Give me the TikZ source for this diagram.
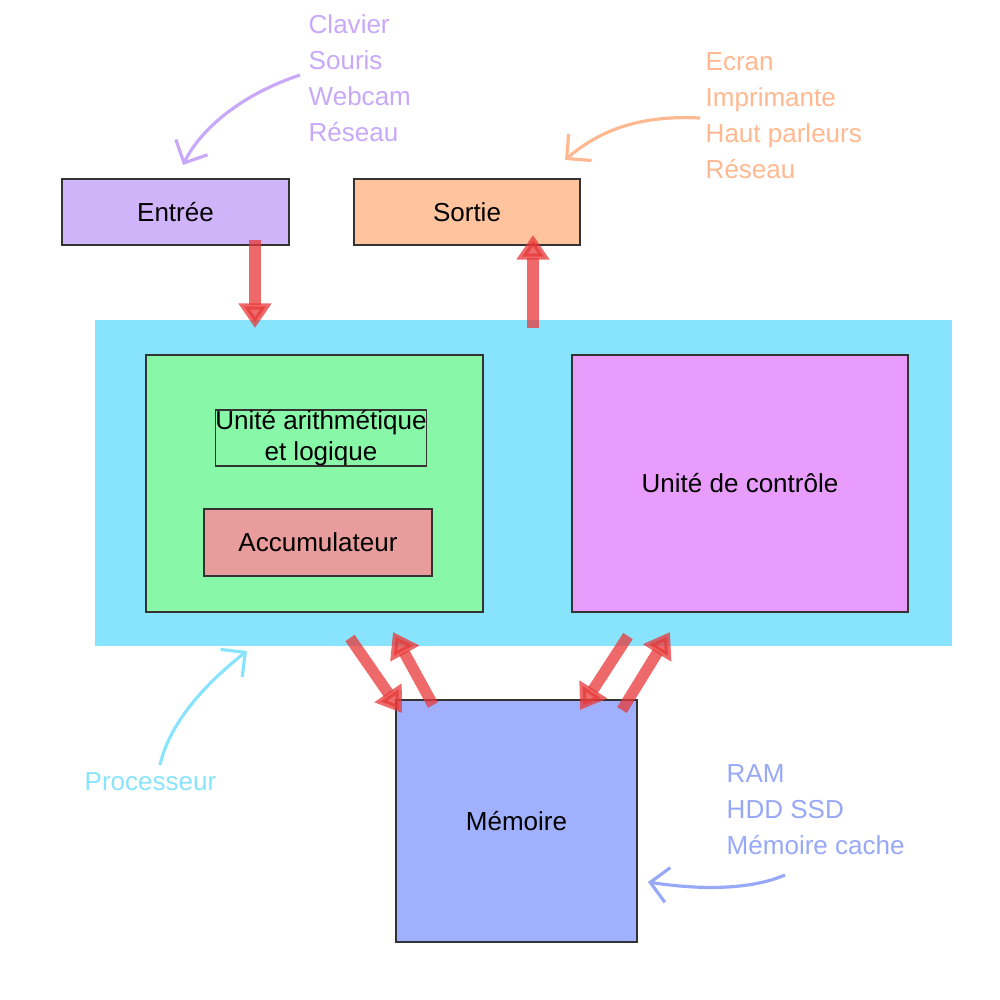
\documentclass[tikz,border=0pt]{standalone}
\usepackage{fontspec}
\setmainfont{Liberation Sans}
\usetikzlibrary{arrows.meta,positioning}
\definecolor{lavande}{HTML}{D0B4FA}
\definecolor{peche}{HTML}{FFC39E}
\definecolor{ciel}{HTML}{88E4FC}
\definecolor{vert}{HTML}{88F8A8}
\definecolor{rose}{HTML}{E89C9C}
\definecolor{mauve}{HTML}{E89CFC}
\definecolor{bleu}{HTML}{A0B0FC}
\definecolor{rouge}{HTML}{E83838}
\definecolor{lavtxt}{HTML}{C8A8F8}
\definecolor{pechtxt}{HTML}{FFB890}
\definecolor{bleutxt}{HTML}{98A8F8}
\tikzset{
  boite/.style={draw=black!80, line width=0.4pt, font=\fontsize{7.4}{9}\selectfont, align=center, inner sep=0pt},
  flux/.style={-{Triangle[length=7pt,width=9pt]}, line width=3.2pt, rouge, opacity=0.75},
  note/.style={font=\fontsize{7.4}{10.2}\selectfont, align=left, anchor=north west, inner sep=0pt},
  courbe/.style={-{Straight Barb[length=5pt,width=10pt]}, line width=0.9pt}
}
\begin{document}
\begin{tikzpicture}[x=0.01cm,y=-0.01cm]
  \useasboundingbox (0,0) rectangle (1000,1000);

  % Processeur
  \node[fill=ciel, inner sep=0pt, minimum width=8.57cm, minimum height=3.26cm] (proc) at (523.5,483) {};

  % Boites
  \node[boite, fill=lavande, minimum width=2.27cm, minimum height=0.66cm] (entree) at (175.5,212) {Entrée};
  \node[boite, fill=peche, minimum width=2.26cm, minimum height=0.66cm] (sortie) at (467,212) {Sortie};
  \node[boite, fill=vert, minimum width=3.37cm, minimum height=2.57cm] (ual) at (314.5,483.5) {};
  \node[boite] (ualtxt) at (321,438) {Unité arithmétique\\et logique};
  \node[boite, fill=rose, minimum width=2.28cm, minimum height=0.67cm] (acc) at (318,542.5) {Accumulateur};
  \node[boite, fill=mauve, minimum width=3.36cm, minimum height=2.57cm] (ctrl) at (740,483.5) {Unité de contrôle};
  \node[boite, fill=bleu, minimum width=2.41cm, minimum height=2.42cm] (mem) at (516.5,821) {Mémoire};

  % Flux
  \coordinate (e1) at (255,240);  \coordinate (e2) at (255,328);
  \coordinate (s1) at (533,328);  \coordinate (s2) at (533,235);
  \coordinate (a1) at (350,638);  \coordinate (a2) at (402,713);
  \coordinate (b1) at (433,705);  \coordinate (b2) at (393,632);
  \coordinate (c1) at (628,636);  \coordinate (c2) at (580,710);
  \coordinate (d1) at (622,710);  \coordinate (d2) at (670,632);
  \foreach \i/\j in {e1/e2,s1/s2,a1/a2,b1/b2,c1/c2,d1/d2}
    \draw[flux] (\i) -- (\j);

  % Notes
  \node[note, text=lavtxt] (entrees) at (308,14) {Clavier\\Souris\\Webcam\\Réseau};
  \node[note, text=pechtxt] (sorties) at (705,52) {Ecran\\Imprimante\\Haut parleurs\\Réseau};
  \node[note, text=ciel, anchor=west] (nomproc) at (84,782) {Processeur};
  \node[note, text=bleutxt] (memoires) at (726,764) {RAM\\HDD SSD\\Mémoire cache};

  \draw[courbe, lavtxt] (300,75) .. controls (240,95) and (200,130) .. (183,165);
  \draw[courbe, pechtxt] (700,118) .. controls (640,115) and (600,130) .. (565,160);
  \draw[courbe, ciel] (160,765) .. controls (170,720) and (210,680) .. (247,651);
  \draw[courbe, bleutxt] (785,875) .. controls (750,890) and (700,890) .. (648,882);
\end{tikzpicture}
\end{document}
